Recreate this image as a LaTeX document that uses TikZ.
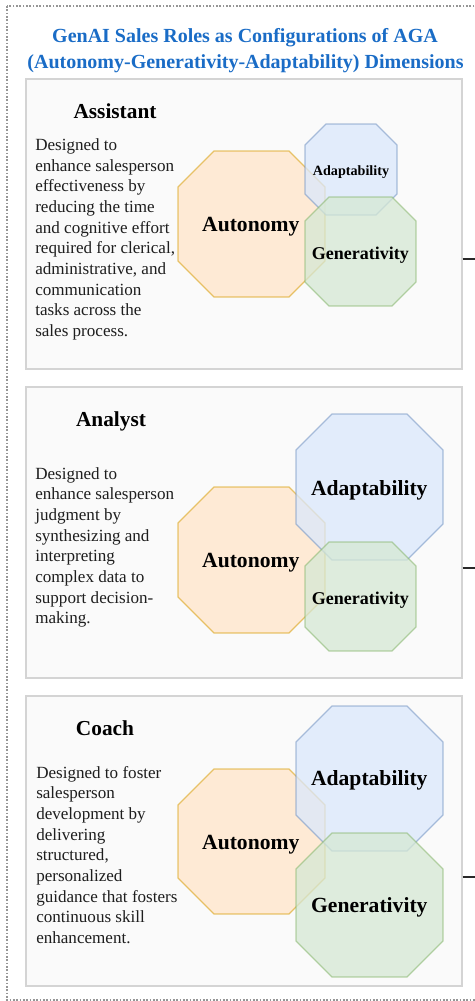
\documentclass[tikz,border=0pt]{standalone}
\usepackage{fontspec}
\setmainfont{Liberation Serif}

\begin{document}
\begin{tikzpicture}[x=0.75pt,y=0.75pt,yscale=-1,xscale=1,
  frame/.style={color={rgb, 255:red, 150; green, 150; blue, 150 }, line width=0.9pt, dash pattern={on 1.2pt off 1.3pt}},
  panel/.style={draw={rgb, 255:red, 212; green, 212; blue, 212 }, fill={rgb, 255:red, 250; green, 250; blue, 250 }, line width=1.1pt, minimum width=327pt, inner sep=0pt},
  aut/.style={draw={rgb, 255:red, 215; green, 155; blue, 0 }, draw opacity=0.55, fill={rgb, 255:red, 255; green, 230; blue, 204 }, fill opacity=0.8, line width=0.9pt},
  adp/.style={draw={rgb, 255:red, 108; green, 142; blue, 191 }, draw opacity=0.55, fill={rgb, 255:red, 218; green, 232; blue, 252 }, fill opacity=0.75, line width=0.9pt},
  gen/.style={draw={rgb, 255:red, 130; green, 179; blue, 102 }, draw opacity=0.55, fill={rgb, 255:red, 213; green, 232; blue, 212 }, fill opacity=0.75, line width=0.9pt},
  link/.style={color={rgb, 255:red, 40; green, 40; blue, 40 }, line width=1.2pt},
  ttl/.style={color={rgb, 255:red, 26; green, 108; blue, 198 }, font=\bfseries\fontsize{15}{19.5}\selectfont, inner sep=0pt, anchor=base},
  head/.style={font=\bfseries\fontsize{16}{19}\selectfont, inner sep=0pt, anchor=base},
  desc/.style={color={rgb, 255:red, 30; green, 30; blue, 30 }, font=\fontsize{12.8}{15.5}\selectfont, align=left, inner sep=0pt, anchor=north west},
  big/.style={font=\bfseries\fontsize{16.2}{19}\selectfont, inner sep=0pt, anchor=base},
  mid/.style={font=\bfseries\fontsize{13.5}{16}\selectfont, inner sep=0pt, anchor=base},
  small/.style={font=\bfseries\fontsize{10.6}{13}\selectfont, inner sep=0pt, anchor=base}
]
\useasboundingbox (0,0) rectangle (475,1001);

%Dotted frame
\draw [frame] (7,6) rectangle (490,1000) ;

% Text Node
\node [ttl] (ttl1) at (245,42) {GenAI Sales Roles as Configurations of AGA};
% Text Node
\node [ttl] (ttl2) at (245.5,68) {(Autonomy-Generativity-Adaptability) Dimensions};

%Panels
\node [panel, minimum height=217.5pt] (asst) at (244,224) {};
\node [panel, minimum height=218.25pt] (anl) at (244,532.5) {};
\node [panel, minimum height=217.5pt] (coach) at (244,841) {};

%Shape: Octagon
\draw [aut] (214,151) -- (289,151) -- (325,187) -- (325,261) -- (289,297) -- (214,297) -- (178,261) -- (178,187) -- cycle ;
%Shape: Octagon
\draw [adp] (326,124) -- (376,124) -- (397,145) -- (397,194) -- (376,215) -- (326,215) -- (305,194) -- (305,145) -- cycle ;
%Shape: Octagon
\draw [gen] (329,197) -- (392,197) -- (416,221) -- (416,282) -- (392,306) -- (329,306) -- (305,282) -- (305,221) -- cycle ;

%Shape: Octagon
\draw [aut] (214,487) -- (289,487) -- (325,523) -- (325,597) -- (289,633) -- (214,633) -- (178,597) -- (178,523) -- cycle ;
%Shape: Octagon
\draw [adp] (332,414) -- (407,414) -- (443,450) -- (443,524) -- (407,560) -- (332,560) -- (296,524) -- (296,450) -- cycle ;
%Shape: Octagon
\draw [gen] (329,542) -- (392,542) -- (416,566) -- (416,627) -- (392,651) -- (329,651) -- (305,627) -- (305,566) -- cycle ;

%Shape: Octagon
\draw [aut] (214,769) -- (289,769) -- (325,805) -- (325,878) -- (289,914) -- (214,914) -- (178,878) -- (178,805) -- cycle ;
%Shape: Octagon
\draw [adp] (332,706) -- (407,706) -- (443,742) -- (443,815) -- (407,851) -- (332,851) -- (296,815) -- (296,742) -- cycle ;
%Shape: Octagon
\draw [gen] (332,833) -- (407,833) -- (443,869) -- (443,941) -- (407,977) -- (332,977) -- (296,941) -- (296,869) -- cycle ;

%Straight Lines
\coordinate (asstOut) at (480,259);
\coordinate (anlOut) at (480,568);
\coordinate (coachOut) at (480,877);
\draw [link] (asst.east |- asstOut) -- (asstOut) ;
\draw [link] (anl.east |- anlOut) -- (anlOut) ;
\draw [link] (coach.east |- coachOut) -- (coachOut) ;

% Text Node
\node [head] (asstHead) at (115,118.3) {Assistant};
% Text Node
\node [desc] (asstDesc) at (35,138.5) {Designed to\\enhance salesperson\\effectiveness by\\reducing the time\\and cognitive effort\\required for clerical,\\administrative, and\\communication\\tasks across the\\sales process.};
% Text Node
\node [big] (asstAut) at (250.8,231.5) {Autonomy};
% Text Node
\node [small] (asstAdp) at (351,175) {Adaptability};
% Text Node
\node [mid] (asstGen) at (360.3,259) {Generativity};

% Text Node
\node [head] (anlHead) at (111,426.7) {Analyst};
% Text Node
\node [desc] (anlDesc) at (35,467) {Designed to\\enhance salesperson\\judgment by\\synthesizing and\\interpreting\\complex data to\\support decision-\\making.};
% Text Node
\node [big] (anlAut) at (250.8,567.7) {Autonomy};
% Text Node
\node [big] (anlAdp) at (369.3,495) {Adaptability};
% Text Node
\node [mid] (anlGen) at (360.3,604) {Generativity};

% Text Node
\node [head] (coachHead) at (105,735) {Coach};
% Text Node
\node [desc] (coachDesc) at (36,766) {Designed to foster\\salesperson\\development by\\delivering\\structured,\\personalized\\guidance that fosters\\continuous skill\\enhancement.};
% Text Node
\node [big] (coachAut) at (250.8,849) {Autonomy};
% Text Node
\node [big] (coachAdp) at (369.3,785.7) {Adaptability};
% Text Node
\node [big] (coachGen) at (369.3,912.3) {Generativity};

\end{tikzpicture}
\end{document}
